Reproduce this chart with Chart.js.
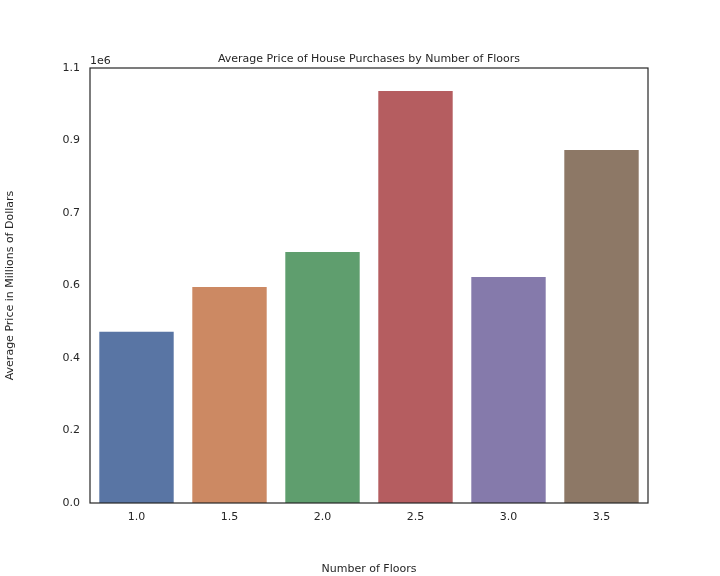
<!DOCTYPE html>
<html>
<head>
<meta charset="utf-8">
<script src="https://cdn.jsdelivr.net/npm/chart.js@4"></script>
<style>
  html, body { margin: 0; padding: 0; background: #fff; }
  #wrap { width: 720px; height: 576px; }
</style>
</head>
<body>
<div id="wrap"><canvas id="chart" width="720" height="576"></canvas></div>
<script>
const floors = ["1.0", "1.5", "2.0", "2.5", "3.0", "3.5"];
const avgPrice = [440000, 555000, 645000, 1059000, 581000, 907000];
const barColors = ["#5975a4", "#cc8963", "#5f9e6e", "#b55d60", "#857aab", "#8d7866"];

const FONT = "'DejaVu Sans', sans-serif";

// frame, title and the "1e6" offset label
const extras = {
  id: "extras",
  afterDraw(chart) {
    const { ctx, chartArea: a } = chart;
    ctx.save();
    ctx.strokeStyle = "#262626";
    ctx.lineWidth = 1.2;
    ctx.strokeRect(a.left, a.top, a.right - a.left, a.bottom - a.top);
    ctx.fillStyle = "#262626";
    ctx.font = "11px " + FONT;
    ctx.textAlign = "center";
    ctx.textBaseline = "bottom";
    ctx.fillText("Average Price of House Purchases by Number of Floors", (a.left + a.right) / 2, a.top - 3);
    ctx.textAlign = "left";
    ctx.fillText("1e6", a.left, a.top - 1);
    ctx.restore();
  }
};

new Chart(document.getElementById("chart").getContext("2d"), {
  type: "bar",
  data: {
    labels: floors,
    datasets: [{
      data: avgPrice,
      backgroundColor: barColors,
      categoryPercentage: 1,
      barPercentage: 0.8
    }]
  },
  options: {
    responsive: false,
    animation: false,
    layout: { padding: { top: 68, right: 72, left: 0, bottom: 0 } },
    plugins: { legend: { display: false }, tooltip: { enabled: false } },
    scales: {
      x: {
        grid: { display: false, drawTicks: false },
        border: { display: false },
        ticks: { color: "#262626", font: { family: FONT, size: 11 }, padding: 8 },
        title: { display: true, text: "Number of Floors", color: "#262626", font: { family: FONT, size: 11 }, padding: 0 },
        afterFit(s) { s.height = 73; }
      },
      y: {
        min: 0,
        max: 1118000,
        grid: { display: false, drawTicks: false },
        border: { display: false },
        ticks: {
          stepSize: 200000,
          color: "#262626",
          font: { family: FONT, size: 11 },
          padding: 10,
          callback: v => (v / 1e6).toFixed(1)
        },
        title: { display: true, text: "Average Price in Millions of Dollars", color: "#262626", font: { family: FONT, size: 11 }, padding: 4 },
        afterFit(s) { s.width = 90; }
      }
    }
  },
  plugins: [extras]
});
</script>
</body>
</html>
